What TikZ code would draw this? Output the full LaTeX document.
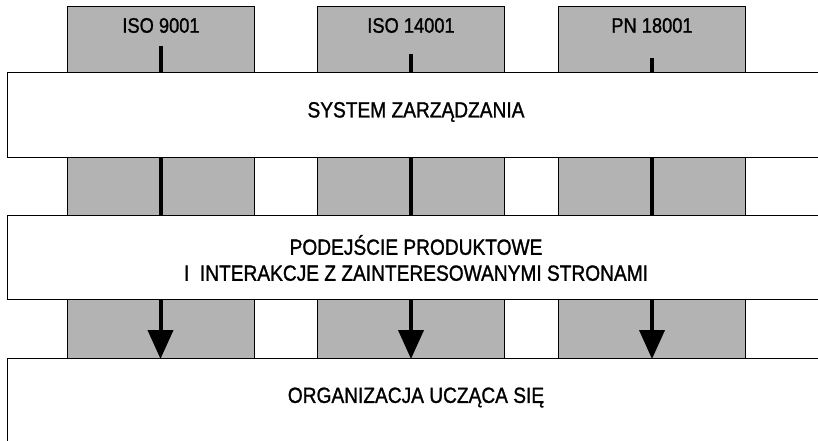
\documentclass[tikz,border=0pt]{standalone}
\usepackage{fontspec}
\setmainfont{Liberation Sans}[FakeStretch=0.87,FakeBold=1.2]
\usetikzlibrary{arrows.meta}
\definecolor{boxgray}{RGB}{179,179,179}
\begin{document}
\begin{tikzpicture}[x=1pt,y=-1pt,
  graybox/.style={draw=black,line width=1pt,fill=boxgray,minimum width=187pt,inner sep=0pt,anchor=north west},
  whitebox/.style={draw=black,line width=1pt,fill=white,minimum width=840pt,inner sep=0pt,anchor=north west},
  lbl/.style={font=\fontsize{22}{26}\selectfont,inner sep=0pt,align=center},
  isolbl/.style={font=\fontsize{21}{25}\selectfont,inner sep=0pt},
  conn/.style={line width=4pt,black},
  arr/.style={line width=4pt,black,-{Triangle[length=29pt,width=25pt]}}]
\useasboundingbox (0,0) rectangle (818,441);
\clip (0,0) rectangle (818,441);
% top gray boxes
\node[graybox,minimum height=66pt] (t1) at (67,6) {};
\node[graybox,minimum height=66pt] (t2) at (317,6) {};
\node[graybox,minimum height=66pt] (t3) at (558,6) {};
\node[isolbl] (iso1) at (161,25.5) {ISO 9001};
\node[isolbl] (iso2) at (411,25.5) {ISO 14001};
\node[isolbl] (iso3) at (652,25.5) {PN 18001};
% middle gray boxes
\node[graybox,minimum height=58pt] (m1) at (67,157) {};
\node[graybox,minimum height=58pt] (m2) at (317,157) {};
\node[graybox,minimum height=58pt] (m3) at (558,157) {};
% bottom gray boxes
\node[graybox,minimum height=59pt] (b1) at (67,299) {};
\node[graybox,minimum height=59pt] (b2) at (317,299) {};
\node[graybox,minimum height=59pt] (b3) at (558,299) {};
% white boxes
\node[whitebox,minimum height=85pt] (sys) at (7,72) {};
\node[whitebox,minimum height=84pt] (pod) at (7,215) {};
\node[whitebox,minimum height=100pt] (org) at (7,358) {};
\node[lbl] (systxt) at (416,112) {SYSTEM ZARZĄDZANIA};
\node[lbl] (podtxt) at (416,258) {PODEJŚCIE PRODUKTOWE\\I\ \ INTERAKCJE Z ZAINTERESOWANYMI STRONAMI};
\node[lbl] (orgtxt) at (416,397.5) {ORGANIZACJA UCZĄCA SIĘ};
% connectors
\coordinate (c1) at (160.5,46);
\coordinate (c2) at (411,54);
\coordinate (c3) at (652,58);
\draw[conn] (c1) -- (c1 |- sys.north);
\draw[conn] (c2) -- (c2 |- sys.north);
\draw[conn] (c3) -- (c3 |- sys.north);
\draw[conn] (c1 |- m1.north) -- (c1 |- m1.south);
\draw[conn] (c2 |- m2.north) -- (c2 |- m2.south);
\draw[conn] (c3 |- m3.north) -- (c3 |- m3.south);
\draw[arr] (c1 |- b1.north) -- (c1 |- b1.south);
\draw[arr] (c2 |- b2.north) -- (c2 |- b2.south);
\draw[arr] (c3 |- b3.north) -- (c3 |- b3.south);
\end{tikzpicture}
\end{document}
